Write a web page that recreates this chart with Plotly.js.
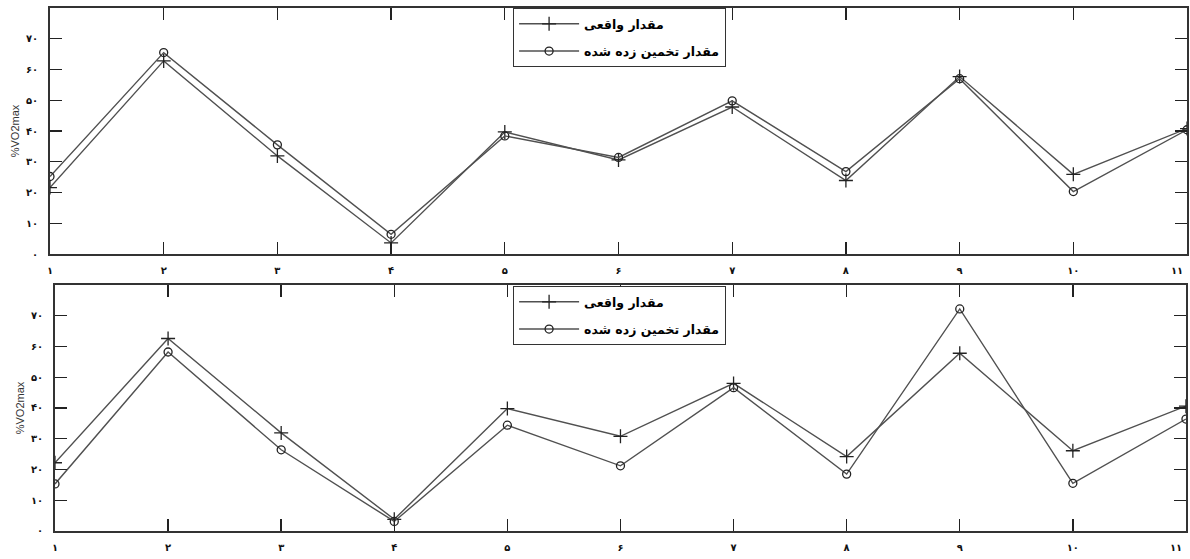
<!DOCTYPE html>
<html>
<head>
<meta charset="utf-8">
<script src="https://cdn.plot.ly/plotly-3.0.1.min.js"></script>
<style>html,body{margin:0;padding:0;background:#fff;}#chart{width:1190px;height:559px;}</style>
</head>
<body>
<div id="chart"></div>
<script>
// ---- data ----
const samples = [1, 2, 3, 4, 5, 6, 7, 8, 9, 10, 11];
const sampleLabels = ['۱', '۲', '۳', '۴', '۵', '۶', '۷', '۸', '۹', '۱۰', '۱۱'];
const yTickVals = [0, 10, 20, 30, 40, 50, 60, 70];
const yTickLabels = ['۰', '۱۰', '۲۰', '۳۰', '۴۰', '۵۰', '۶۰', '۷۰'];

const topActual    = [21.6, 62.8, 31.9, 3.6, 39.7, 30.6, 47.8, 23.9, 57.7, 25.9, 40.8];
const topEstimated = [25.2, 65.5, 35.5, 6.4, 38.4, 31.4, 49.8, 26.8, 57.0, 20.3, 40.4];
const botActual    = [22.2, 62.6, 31.9, 3.8, 39.8, 30.8, 48.0, 24.2, 57.8, 26.1, 40.6];
const botEstimated = [15.3, 58.2, 26.4, 3.1, 34.4, 21.2, 46.6, 18.5, 72.2, 15.5, 36.4];

const nameActual = 'مقدار واقعی';
const nameEstimated = 'مقدار تخمین زده شده';
const yTitle = '%VO2max';

// the last label sits at the right page edge: drawn as an annotation anchored to its right
const lastIdx = samples.length - 1;
const mainTickText = sampleLabels.map((t, i) => i === lastIdx ? '' : t);

// ---- styles ----
const lineCol = '#505050';
const markCol = '#222';
function tr(y, name, sym, xa, ya, leg, grp, size) {
  return {
    x: samples, y: y, name: name, type: 'scatter', mode: 'lines+markers',
    xaxis: xa, yaxis: ya, legend: leg, legendgroup: grp,
    line: {color: lineCol, width: 1.4},
    marker: {symbol: sym, size: size, color: markCol, line: {color: markCol, width: 1.3}}
  };
}
const data = [
  tr(topActual, nameActual, 'cross-thin-open', 'x', 'y', 'legend', 'a', 10),
  tr(topEstimated, nameEstimated, 'circle-open', 'x', 'y', 'legend', 'b', 8),
  tr(botActual, nameActual, 'cross-thin-open', 'x2', 'y2', 'legend2', 'c', 10),
  tr(botEstimated, nameEstimated, 'circle-open', 'x2', 'y2', 'legend2', 'd', 8)
];

const tickFont = {family: 'DejaVu Sans', size: 10, color: '#111', weight: 'bold'};
function xAxis(dom, anchor) {
  return {
    domain: dom, anchor: anchor, range: [1, 11],
    tickvals: samples, ticktext: mainTickText,
    ticks: 'inside', ticklen: 12, tickwidth: 1.4, tickcolor: '#222',
    mirror: 'ticks', showline: true, linecolor: '#333', linewidth: 1.8,
    showgrid: false, zeroline: false, automargin: false,
    tickfont: tickFont,
    ticklabelstandoff: 6, ticklabeloverflow: 'allow', fixedrange: true
  };
}
function yAxis(dom, anchor) {
  return {
    domain: dom, anchor: anchor, range: [0, 80],
    tickvals: yTickVals, ticktext: yTickLabels,
    ticks: 'inside', ticklen: 12, tickwidth: 1.4, tickcolor: '#222',
    mirror: 'ticks', showline: true, linecolor: '#333', linewidth: 1.8,
    showgrid: false, zeroline: false, automargin: false,
    tickfont: tickFont,
    ticklabelstandoff: 8, ticklabeloverflow: 'allow',
    title: {text: yTitle, font: {family: 'Liberation Sans', size: 11, color: '#333'}, standoff: 4},
    fixedrange: true
  };
}
function legendCfg(ytop) {
  return {
    x: 0.431, xanchor: 'left', y: ytop, yanchor: 'top',
    bgcolor: '#fff', bordercolor: '#333', borderwidth: 1.2,
    font: {family: 'DejaVu Sans', size: 12.5, color: '#000', weight: 'bold'},
    traceorder: 'grouped', tracegroupgap: 8, itemwidth: 60
  };
}
function lastLabel(xref, yref) {
  return {
    text: sampleLabels[lastIdx], x: samples[lastIdx], y: 0, xref: xref, yref: yref,
    xanchor: 'right', yanchor: 'top', yshift: -9, xshift: -2, showarrow: false,
    font: tickFont
  };
}

const layout = {
  width: 1190, height: 559,
  margin: {l: 0, r: 0, t: 0, b: 0},
  paper_bgcolor: '#fff', plot_bgcolor: '#fff',
  showlegend: true,
  xaxis: xAxis([0.0420, 0.9975], 'y'),
  yaxis: yAxis([0.5456, 0.9857], 'x'),
  xaxis2: xAxis([0.0462, 0.9966], 'y2'),
  yaxis2: yAxis([0.0501, 0.4902], 'x2'),
  legend: legendCfg(0.9857),
  legend2: legendCfg(0.4884),
  annotations: [lastLabel('x', 'y'), lastLabel('x2', 'y2')]
};

Plotly.newPlot('chart', data, layout, {displayModeBar: false, staticPlot: true});
</script>
</body>
</html>
